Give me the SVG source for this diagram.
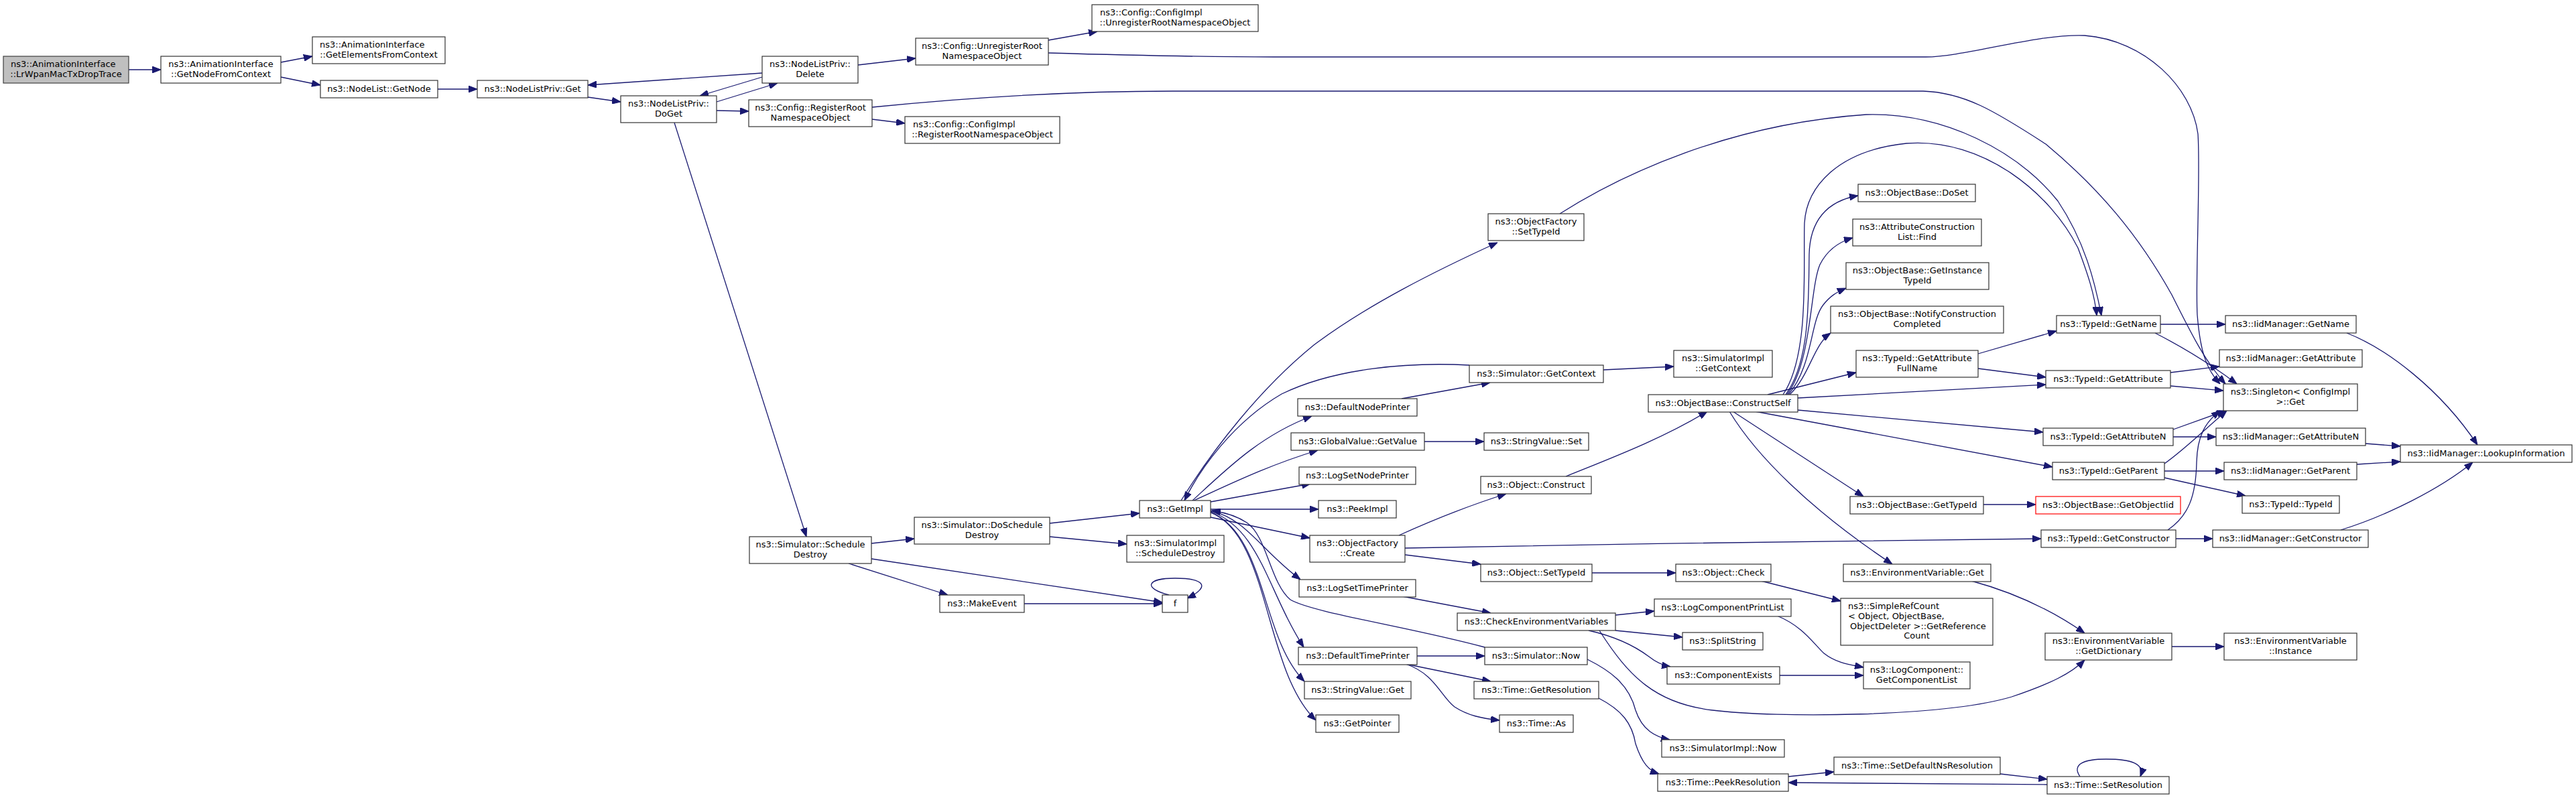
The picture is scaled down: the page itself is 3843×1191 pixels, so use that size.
<svg xmlns="http://www.w3.org/2000/svg" width="3843" height="1191" viewBox="0 0 3843 1191">
<style>
rect{fill:#fff;stroke:#333;stroke-width:1.2}
rect.root{fill:#bfbfbf;stroke:#404040}
rect.red{stroke:#ff0000}
text{font-family:"DejaVu Sans","Liberation Sans",sans-serif;font-size:13px;fill:#000}
text.c{text-anchor:middle}
#edges path{fill:none;stroke:#191970;stroke-width:1.3;marker-end:url(#a)}
</style>
<defs>
<marker id="a" markerUnits="userSpaceOnUse" markerWidth="13" markerHeight="10" refX="13" refY="5" orient="auto"><path d="M0,0 L13,5 L0,10 z" fill="#191970" stroke="#191970" stroke-width="1"/></marker>
</defs>
<rect x="0" y="0" width="3843" height="1191" style="fill:#fff;stroke:none"/>
<g id="edges">
<path d="M192,104 L240,104"/>
<path d="M419,93 L466,84"/>
<path d="M419,115 L478,127"/>
<path d="M653,133 L712,133"/>
<path d="M877,145 L926,152"/>
<path d="M1069,152 L1160,124"/>
<path d="M1137,115 L1044,143"/>
<path d="M1137,109 L877,127"/>
<path d="M1280,97 L1366,87"/>
<path d="M1069,165 L1117,166"/>
<path d="M1301,178 L1350,184"/>
<path d="M1301,160 C1450,145 1600,136 1750,136 L2869,136 C2930,138 2975,165 3052,215 C3130,280 3190,350 3240,440 C3270,500 3290,540 3320,573"/>
<path d="M1564,60 L1637,47"/>
<path d="M1564,79 C1700,83 1800,85 1900,85 L2873,85 C2930,85 3040,50 3110,53 C3200,60 3270,130 3279,200 C3283,260 3275,420 3278,470 C3282,520 3290,550 3312,573"/>
<path d="M1006,183 L1203,801"/>
<path d="M1300,811 L1364,804"/>
<path d="M1266,841 L1414,888"/>
<path d="M1300,834 L1734,899"/>
<path d="M1528,901 L1734,901"/>
<path d="M1744,888 C1705,878 1710,863 1753,863 C1798,863 1806,876 1771,893"/>
<path d="M1566,781 L1700,766"/>
<path d="M1566,801 L1681,812"/>
<path d="M1762,747 C1810,670 1880,580 1960,515 C2040,455 2140,405 2234,362"/>
<path d="M2192,545 C2100,540 1990,550 1912,588 C1840,630 1790,700 1767,747"/>
<path d="M1779,747 C1830,700 1880,650 1957,621"/>
<path d="M1781,747 C1830,725 1890,695 1966,672"/>
<path d="M1806,749 L1955,722"/>
<path d="M1806,760 L1967,760"/>
<path d="M1806,772 L1954,803"/>
<path d="M1806,762 C1860,775 1880,820 1940,865"/>
<path d="M1806,763 C1880,790 1890,880 1945,966"/>
<path d="M1806,764 C1890,800 1880,950 1946,1017"/>
<path d="M1806,765 C1895,800 1885,1000 1963,1075"/>
<path d="M2215,966 C2100,935 1960,915 1925,895 C1895,870 1890,800 1860,780 C1845,770 1830,765 1808,762"/>
<path d="M2091,595 L2223,571"/>
<path d="M2392,552 L2497,547"/>
<path d="M2125,659 L2214,659"/>
<path d="M2087,799 C2140,775 2190,755 2247,737"/>
<path d="M2096,818 C2400,812 2800,806 3045,804"/>
<path d="M2096,828 L2209,842"/>
<path d="M2336,711 C2400,685 2480,655 2547,614"/>
<path d="M2327,319 C2420,260 2580,185 2784,171 C2900,168 3010,225 3070,300 C3110,360 3125,420 3135,471"/>
<path d="M2660,589 C2700,530 2690,400 2692,333 C2695,280 2740,225 2844,214 C2960,205 3060,290 3100,370 C3115,410 3125,440 3128,471"/>
<path d="M2664,589 C2700,540 2698,450 2699,380 C2700,330 2725,300 2772,292"/>
<path d="M2666,589 C2703,540 2700,430 2715,395 C2725,375 2740,362 2764,355"/>
<path d="M2668,589 C2705,545 2700,480 2720,455 C2730,442 2740,436 2754,430"/>
<path d="M2670,589 C2700,560 2705,515 2731,497"/>
<path d="M2637,589 L2769,556"/>
<path d="M2682,594 L3052,574"/>
<path d="M2682,612 L3048,645"/>
<path d="M2618,614 L3062,697"/>
<path d="M2585,614 L2780,741"/>
<path d="M2580,614 C2620,680 2700,760 2823,842"/>
<path d="M2951,528 L3068,494"/>
<path d="M2951,550 L3052,563"/>
<path d="M3223,484 L3320,484"/>
<path d="M3215,497 C3260,520 3300,545 3337,573"/>
<path d="M3238,556 L3311,547"/>
<path d="M3238,576 L3317,583"/>
<path d="M3242,652 L3306,652"/>
<path d="M3242,641 L3320,613"/>
<path d="M3229,692 C3260,670 3290,640 3322,613"/>
<path d="M3229,703 L3318,703"/>
<path d="M3229,713 L3350,740"/>
<path d="M3234,791 C3265,770 3276,740 3277,690 C3278,650 3290,630 3312,613"/>
<path d="M3246,804 L3301,804"/>
<path d="M3501,497 C3560,520 3640,580 3696,664"/>
<path d="M3529,662 L3581,666"/>
<path d="M3516,693 L3581,689"/>
<path d="M3492,791 C3560,770 3640,730 3689,690"/>
<path d="M2959,753 L3037,753"/>
<path d="M2375,855 L2500,855"/>
<path d="M2627,867 L2746,897"/>
<path d="M2941,867 C3000,883 3060,910 3110,945"/>
<path d="M2386,941 C2430,1010 2470,1050 2555,1060 C2650,1072 2900,1070 3001,1040 C3060,1020 3090,1005 3110,985"/>
<path d="M3240,965 L3318,965"/>
<path d="M2092,890 L2224,915"/>
<path d="M2410,918 L2468,912"/>
<path d="M2410,941 L2510,951"/>
<path d="M2370,941 C2410,950 2440,965 2460,980 C2470,988 2480,993 2492,995"/>
<path d="M2651,919 C2690,935 2705,960 2721,975 C2740,990 2760,992 2780,996"/>
<path d="M2655,1008 L2780,1008"/>
<path d="M2114,979 L2215,979"/>
<path d="M2097,991 L2224,1017"/>
<path d="M2097,991 C2140,1005 2150,1040 2170,1055 C2190,1068 2210,1072 2237,1075"/>
<path d="M2368,984 C2400,1000 2430,1020 2440,1060 C2450,1090 2470,1100 2491,1104"/>
<path d="M2385,1042 C2420,1060 2435,1080 2440,1110 C2450,1140 2460,1150 2475,1155"/>
<path d="M2668,1159 L2736,1152"/>
<path d="M2984,1155 L3054,1163"/>
<path d="M3054,1171 L2668,1168"/>
<path d="M3103,1159 C3090,1140 3110,1133 3142,1133 C3180,1133 3200,1140 3193,1159"/>
</g>
<g id="n1"><rect class="root" x="5" y="84" width="187" height="40"/><text x="16" y="100">ns3::AnimationInterface</text><text class="c" x="98.5" y="115">::LrWpanMacTxDropTrace</text></g>
<g id="n2"><rect x="240" y="84" width="179" height="40"/><text class="c" x="329.5" y="100">ns3::AnimationInterface</text><text class="c" x="329.5" y="115">::GetNodeFromContext</text></g>
<g id="n3"><rect x="466" y="55" width="198" height="40"/><text x="477" y="71">ns3::AnimationInterface</text><text class="c" x="565" y="86">::GetElementsFromContext</text></g>
<g id="n4"><rect x="478" y="120" width="175" height="26"/><text class="c" x="565.5" y="137">ns3::NodeList::GetNode</text></g>
<g id="n5"><rect x="712" y="120" width="165" height="26"/><text class="c" x="794.5" y="137">ns3::NodeListPriv::Get</text></g>
<g id="n6"><rect x="926" y="143" width="143" height="40"/><text class="c" x="997.5" y="159">ns3::NodeListPriv::</text><text class="c" x="997.5" y="174">DoGet</text></g>
<g id="n7"><rect x="1137" y="84" width="143" height="40"/><text class="c" x="1208.5" y="100">ns3::NodeListPriv::</text><text class="c" x="1208.5" y="115">Delete</text></g>
<g id="n8"><rect x="1117" y="149" width="184" height="40"/><text class="c" x="1209" y="165">ns3::Config::RegisterRoot</text><text class="c" x="1209" y="180">NamespaceObject</text></g>
<g id="n9"><rect x="1366" y="57" width="198" height="40"/><text class="c" x="1465" y="73">ns3::Config::UnregisterRoot</text><text class="c" x="1465" y="88">NamespaceObject</text></g>
<g id="n10"><rect x="1350" y="174" width="231" height="40"/><text x="1362" y="190">ns3::Config::ConfigImpl</text><text class="c" x="1465.5" y="205">::RegisterRootNamespaceObject</text></g>
<g id="n11"><rect x="1629" y="7" width="248" height="40"/><text x="1641" y="23">ns3::Config::ConfigImpl</text><text class="c" x="1753" y="38">::UnregisterRootNamespaceObject</text></g>
<g id="n12"><rect x="2220" y="319" width="143" height="40"/><text class="c" x="2291.5" y="335">ns3::ObjectFactory</text><text class="c" x="2291.5" y="350">::SetTypeId</text></g>
<g id="n13"><rect x="2772" y="275" width="175" height="26"/><text class="c" x="2859.5" y="292">ns3::ObjectBase::DoSet</text></g>
<g id="n14"><rect x="2764" y="327" width="192" height="40"/><text class="c" x="2860" y="343">ns3::AttributeConstruction</text><text class="c" x="2860" y="358">List::Find</text></g>
<g id="n15"><rect x="2754" y="392" width="213" height="40"/><text class="c" x="2860.5" y="408">ns3::ObjectBase::GetInstance</text><text class="c" x="2860.5" y="423">TypeId</text></g>
<g id="n16"><rect x="2731" y="457" width="258" height="40"/><text class="c" x="2860" y="473">ns3::ObjectBase::NotifyConstruction</text><text class="c" x="2860" y="488">Completed</text></g>
<g id="n17"><rect x="2769" y="523" width="182" height="40"/><text class="c" x="2860" y="539">ns3::TypeId::GetAttribute</text><text class="c" x="2860" y="554">FullName</text></g>
<g id="n18"><rect x="2459" y="589" width="223" height="26"/><text class="c" x="2570.5" y="606">ns3::ObjectBase::ConstructSelf</text></g>
<g id="n19"><rect x="2497" y="523" width="147" height="40"/><text class="c" x="2570.5" y="539">ns3::SimulatorImpl</text><text class="c" x="2570.5" y="554">::GetContext</text></g>
<g id="n20"><rect x="2192" y="545" width="200" height="26"/><text class="c" x="2292" y="562">ns3::Simulator::GetContext</text></g>
<g id="n21"><rect x="1936" y="595" width="178" height="26"/><text class="c" x="2025" y="612">ns3::DefaultNodePrinter</text></g>
<g id="n22"><rect x="1926" y="646" width="199" height="26"/><text class="c" x="2025.5" y="663">ns3::GlobalValue::GetValue</text></g>
<g id="n23"><rect x="2214" y="646" width="156" height="26"/><text class="c" x="2292" y="663">ns3::StringValue::Set</text></g>
<g id="n24"><rect x="1938" y="697" width="174" height="26"/><text class="c" x="2025" y="714">ns3::LogSetNodePrinter</text></g>
<g id="n25"><rect x="2209" y="711" width="165" height="26"/><text class="c" x="2291.5" y="728">ns3::Object::Construct</text></g>
<g id="n26"><rect x="1700" y="747" width="106" height="26"/><text class="c" x="1753" y="764">ns3::GetImpl</text></g>
<g id="n27"><rect x="1967" y="747" width="116" height="26"/><text class="c" x="2025" y="764">ns3::PeekImpl</text></g>
<g id="n28"><rect x="2760" y="741" width="199" height="26"/><text class="c" x="2859.5" y="758">ns3::ObjectBase::GetTypeId</text></g>
<g id="n29"><rect class="red" x="3037" y="741" width="216" height="26"/><text class="c" x="3145" y="758">ns3::ObjectBase::GetObjectIid</text></g>
<g id="n30"><rect x="1364" y="772" width="202" height="40"/><text class="c" x="1465" y="788">ns3::Simulator::DoSchedule</text><text class="c" x="1465" y="803">Destroy</text></g>
<g id="n31"><rect x="1681" y="799" width="145" height="40"/><text class="c" x="1753.5" y="815">ns3::SimulatorImpl</text><text class="c" x="1753.5" y="830">::ScheduleDestroy</text></g>
<g id="n32"><rect x="1954" y="799" width="142" height="40"/><text class="c" x="2025" y="815">ns3::ObjectFactory</text><text class="c" x="2025" y="830">::Create</text></g>
<g id="n33"><rect x="1118" y="801" width="182" height="40"/><text class="c" x="1209" y="817">ns3::Simulator::Schedule</text><text class="c" x="1209" y="832">Destroy</text></g>
<g id="n34"><rect x="3045" y="791" width="201" height="26"/><text class="c" x="3145.5" y="808">ns3::TypeId::GetConstructor</text></g>
<g id="n35"><rect x="3301" y="791" width="232" height="26"/><text class="c" x="3417" y="808">ns3::IidManager::GetConstructor</text></g>
<g id="n36"><rect x="2209" y="842" width="166" height="26"/><text class="c" x="2292" y="859">ns3::Object::SetTypeId</text></g>
<g id="n37"><rect x="2500" y="842" width="142" height="26"/><text class="c" x="2571" y="859">ns3::Object::Check</text></g>
<g id="n38"><rect x="2750" y="842" width="220" height="26"/><text class="c" x="2860" y="859">ns3::EnvironmentVariable::Get</text></g>
<g id="n39"><rect x="1938" y="865" width="174" height="26"/><text class="c" x="2025" y="882">ns3::LogSetTimePrinter</text></g>
<g id="n40"><rect x="1402" y="888" width="126" height="26"/><text class="c" x="1465" y="905">ns3::MakeEvent</text></g>
<g id="n41"><rect x="1734" y="888" width="38" height="26"/><text class="c" x="1753" y="905">f</text></g>
<g id="n42"><rect x="2746" y="893" width="227" height="70"/><text x="2757" y="909">ns3::SimpleRefCount</text><text x="2757" y="924">&lt; Object, ObjectBase,</text><text x="2760" y="939">ObjectDeleter &gt;::GetReference</text><text class="c" x="2859.5" y="953">Count</text></g>
<g id="n43"><rect x="2468" y="894" width="204" height="26"/><text class="c" x="2570" y="911">ns3::LogComponentPrintList</text></g>
<g id="n44"><rect x="2174" y="915" width="236" height="26"/><text class="c" x="2292" y="932">ns3::CheckEnvironmentVariables</text></g>
<g id="n45"><rect x="2510" y="944" width="120" height="26"/><text class="c" x="2570" y="961">ns3::SplitString</text></g>
<g id="n46"><rect x="3051" y="945" width="189" height="40"/><text class="c" x="3145.5" y="961">ns3::EnvironmentVariable</text><text class="c" x="3145.5" y="976">::GetDictionary</text></g>
<g id="n47"><rect x="3318" y="945" width="198" height="40"/><text class="c" x="3417" y="961">ns3::EnvironmentVariable</text><text class="c" x="3417" y="976">::Instance</text></g>
<g id="n48"><rect x="1937" y="966" width="177" height="26"/><text class="c" x="2025.5" y="983">ns3::DefaultTimePrinter</text></g>
<g id="n49"><rect x="2215" y="966" width="153" height="26"/><text class="c" x="2291.5" y="983">ns3::Simulator::Now</text></g>
<g id="n50"><rect x="2487" y="995" width="168" height="26"/><text class="c" x="2571" y="1012">ns3::ComponentExists</text></g>
<g id="n51"><rect x="2780" y="988" width="159" height="40"/><text class="c" x="2859.5" y="1004">ns3::LogComponent::</text><text class="c" x="2859.5" y="1019">GetComponentList</text></g>
<g id="n52"><rect x="1946" y="1017" width="159" height="26"/><text class="c" x="2025.5" y="1034">ns3::StringValue::Get</text></g>
<g id="n53"><rect x="2199" y="1017" width="186" height="26"/><text class="c" x="2292" y="1034">ns3::Time::GetResolution</text></g>
<g id="n54"><rect x="1963" y="1067" width="124" height="26"/><text class="c" x="2025" y="1084">ns3::GetPointer</text></g>
<g id="n55"><rect x="2237" y="1067" width="110" height="26"/><text class="c" x="2292" y="1084">ns3::Time::As</text></g>
<g id="n56"><rect x="2479" y="1104" width="183" height="26"/><text class="c" x="2570.5" y="1121">ns3::SimulatorImpl::Now</text></g>
<g id="n57"><rect x="2736" y="1130" width="248" height="26"/><text class="c" x="2860" y="1147">ns3::Time::SetDefaultNsResolution</text></g>
<g id="n58"><rect x="2473" y="1155" width="195" height="26"/><text class="c" x="2570.5" y="1172">ns3::Time::PeekResolution</text></g>
<g id="n59"><rect x="3054" y="1159" width="182" height="26"/><text class="c" x="3145" y="1176">ns3::Time::SetResolution</text></g>
<g id="n60"><rect x="3068" y="471" width="155" height="26"/><text class="c" x="3145.5" y="488">ns3::TypeId::GetName</text></g>
<g id="n61"><rect x="3052" y="553" width="186" height="26"/><text class="c" x="3145" y="570">ns3::TypeId::GetAttribute</text></g>
<g id="n62"><rect x="3048" y="639" width="194" height="26"/><text class="c" x="3145" y="656">ns3::TypeId::GetAttributeN</text></g>
<g id="n63"><rect x="3062" y="690" width="167" height="26"/><text class="c" x="3145.5" y="707">ns3::TypeId::GetParent</text></g>
<g id="n64"><rect x="3320" y="471" width="195" height="26"/><text class="c" x="3417.5" y="488">ns3::IidManager::GetName</text></g>
<g id="n65"><rect x="3311" y="522" width="213" height="26"/><text class="c" x="3417.5" y="539">ns3::IidManager::GetAttribute</text></g>
<g id="n66"><rect x="3317" y="573" width="200" height="40"/><text class="c" x="3417" y="589">ns3::Singleton&lt; ConfigImpl</text><text class="c" x="3417" y="604">&gt;::Get</text></g>
<g id="n67"><rect x="3306" y="639" width="223" height="26"/><text class="c" x="3417.5" y="656">ns3::IidManager::GetAttributeN</text></g>
<g id="n68"><rect x="3318" y="690" width="198" height="26"/><text class="c" x="3417" y="707">ns3::IidManager::GetParent</text></g>
<g id="n69"><rect x="3345" y="740" width="145" height="26"/><text class="c" x="3417.5" y="757">ns3::TypeId::TypeId</text></g>
<g id="n70"><rect x="3581" y="664" width="256" height="26"/><text class="c" x="3709" y="681">ns3::IidManager::LookupInformation</text></g>
</svg>
